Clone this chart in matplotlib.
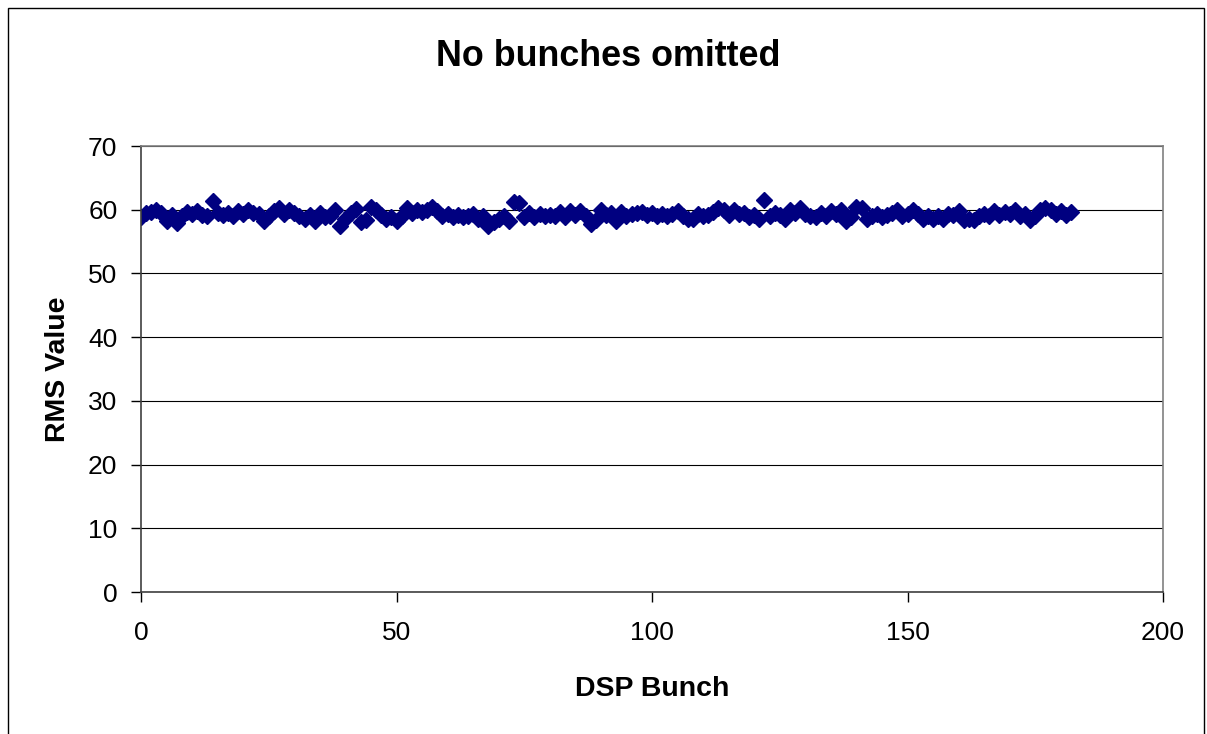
import matplotlib
matplotlib.use("Agg")
import matplotlib.pyplot as plt
from matplotlib.patches import Rectangle
import numpy as np

title = "No bunches omitted"
x_label = "DSP Bunch"
y_label = "RMS Value"

rms_values = [
    58.8, 59.5, 59.6, 60.0, 59.5, 58.3, 59.2, 57.9, 59.0, 59.6,
    59.3, 59.8, 59.2, 59.0, 61.3, 59.5, 59.2, 59.5, 59.0, 59.8,
    59.3, 60.0, 59.5, 59.4, 58.2, 59.0, 59.8, 60.2, 59.3, 60.0,
    59.5, 59.0, 58.6, 59.2, 58.3, 59.5, 58.8, 59.0, 60.0, 57.4,
    58.5, 59.5, 60.1, 58.0, 58.4, 60.4, 60.0, 59.2, 58.6, 58.8,
    58.2, 59.0, 60.3, 59.5, 60.0, 59.6, 60.0, 60.4, 59.8, 59.0,
    59.4, 58.8, 59.2, 58.8, 59.0, 59.4, 58.5, 59.0, 57.5, 58.0,
    58.6, 59.0, 58.2, 61.2, 61.0, 58.8, 59.5, 58.8, 59.3, 59.0,
    59.2, 59.0, 59.6, 58.8, 59.8, 59.2, 59.8, 59.0, 57.8, 58.4,
    60.0, 59.2, 59.5, 58.2, 59.7, 59.0, 59.3, 59.5, 59.7, 59.2,
    59.5, 59.0, 59.3, 59.0, 59.4, 59.8, 59.0, 58.5, 58.6, 59.3,
    59.0, 59.2, 59.6, 60.3, 60.0, 59.2, 60.0, 59.3, 59.5, 58.8,
    59.2, 58.6, 61.6, 59.0, 59.5, 59.2, 58.6, 60.0, 59.5, 60.3,
    59.4, 59.0, 58.8, 59.5, 59.0, 59.8, 59.3, 60.0, 58.2, 58.8,
    60.5, 60.3, 58.6, 59.0, 59.4, 58.8, 59.2, 59.5, 60.0, 59.0,
    59.4, 60.0, 59.4, 58.5, 59.0, 58.6, 59.0, 58.6, 59.4, 59.2,
    59.8, 58.4, 58.6, 58.4, 59.0, 59.4, 59.0, 59.8, 59.2, 59.6,
    59.4, 60.0, 59.0, 59.4, 58.4, 59.0, 60.0, 60.2, 60.0, 59.4,
    59.8, 59.2, 59.6,
]
bunches = list(range(len(rms_values)))

x_ticks = [0, 50, 100, 150, 200]
y_ticks = [0, 10, 20, 30, 40, 50, 60, 70]

plt.rcParams['font.family'] = ['Liberation Sans', 'DejaVu Sans']

W, H = 1207, 734
fig = plt.figure(figsize=(W / 100, H / 100), dpi=100)
fig.patch.set_facecolor("white")

# outer chart border
fig.add_artist(Rectangle((8 / W, -0.05), (1204 - 8) / W, 1.05 - 8 / H,
                         transform=fig.transFigure, fill=False,
                         edgecolor="black", linewidth=1.0))

ax = fig.add_axes([141 / W, 1 - 592 / H, (1163 - 141) / W, (592 - 146) / H])
ax.set_xlim(0, 200)
ax.set_ylim(0, 70)
ax.set_xticks(x_ticks)
ax.set_yticks(y_ticks)
ax.tick_params(axis='both', labelsize=19, direction='out', length=7,
               width=1, color='black')
ax.tick_params(axis='x', pad=14)
ax.tick_params(axis='y', pad=10)
ax.yaxis.grid(True, color='black', linewidth=0.8)
ax.set_axisbelow(True)
for side in ['top', 'right']:
    ax.spines[side].set_color('#808080')
for side in ['left', 'bottom']:
    ax.spines[side].set_color('#404040')
for s in ax.spines.values():
    s.set_linewidth(1.2)

ax.plot(bunches, rms_values, linestyle='none', marker='D', markersize=8,
        color='#000080', markeredgecolor='#000080')

ax.set_xlabel(x_label, fontsize=20.5, fontweight='bold', labelpad=22)
ax.set_ylabel(y_label, fontsize=20.5, fontweight='bold', labelpad=12)
fig.text(608 / W, 1 - 56 / H, title, fontsize=25.8, fontweight='bold',
         ha='center', va='center')

fig.savefig("out.png", dpi=100)
